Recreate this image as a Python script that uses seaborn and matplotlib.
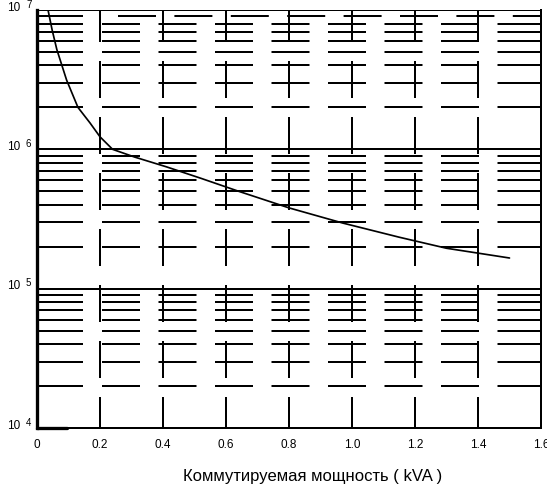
import matplotlib
matplotlib.use("Agg")
import matplotlib.pyplot as plt
import matplotlib.transforms as mtransforms
import seaborn as sns
import numpy as np
import pandas as pd

# ---- data ----
power_kva = [0.035, 0.048, 0.063, 0.094, 0.13, 0.168, 0.2, 0.24, 0.31, 0.41,
             0.52, 0.64, 0.8, 0.97, 1.15, 1.3, 1.5]
operations = [1.0e7, 7.2e6, 5.2e6, 3.14e6, 2.0e6, 1.55e6, 1.23e6, 1.0e6, 8.8e5, 7.5e5,
              6.2e5, 5.0e5, 3.8e5, 2.96e5, 2.34e5, 1.95e5, 1.66e5]
x_ticks = [0, 0.2, 0.4, 0.6, 0.8, 1.0, 1.2, 1.4, 1.6]
x_tick_labels = ["0", "0.2", "0.4", "0.6", "0.8", "1.0", "1.2", "1.4", "1.6"]
y_exponents = [4, 5, 6, 7]
y_base_label = "10"
x_label = "Коммутируемая мощность ( kVA )"

sns.set_style("white")
plt.rcParams["font.family"] = ["Liberation Sans", "DejaVu Sans"]
plt.rcParams["lines.scale_dashes"] = False

DPI = 100
fig = plt.figure(figsize=(5.47, 4.94), dpi=DPI)
ax = fig.add_axes([37 / 547, 66 / 494, 504 / 547, 418 / 494])

df = pd.DataFrame({"power": power_kva, "ops": operations})

ax.set_xlim(0, 1.6)
ax.set_yscale("log")
ax.set_ylim(1e4, 1e7)

px = 72.0 / DPI  # points per pixel

# minor horizontal dashed grid
h_seq = [46, 19] + [38, 18.5] * 7 + [60]
h_seq_top = [46, 35] + [38, 18.4] * 7 + [60]
for e in [4, 5, 6]:
    for m in range(2, 10):
        v = m * 10 ** e
        seq = h_seq_top if (e == 6 and m == 9) else h_seq
        ax.axhline(v, color="black", lw=2 * px,
                   linestyle=(0, [s * px for s in seq]), zorder=1)
# major solid lines
for e in [5, 6]:
    ax.axhline(10 ** e, color="black", lw=2 * px, zorder=1)

# vertical dashed grid (drawn bottom to top)
v_seq = [31, 19] + [37, 19] * 6 + [60]
for xv in x_ticks[1:-1]:
    ax.axvline(xv, color="black", lw=2 * px,
               linestyle=(0, [s * px for s in v_seq]), zorder=1)

# thick piece at the start of the bottom axis
ax.axhline(1e4, xmin=0, xmax=30 / 504, color="black", lw=3.3 * px, zorder=3,
           clip_on=False)

sns.lineplot(data=df, x="power", y="ops", ax=ax, color="black",
             lw=1.7 * px, zorder=4, legend=False)

# spines
ax.spines["left"].set_linewidth(3.3 * px)
ax.spines["bottom"].set_linewidth(2 * px)
ax.spines["right"].set_linewidth(2 * px)
ax.spines["top"].set_linewidth(1 * px)
for s in ax.spines.values():
    s.set_color("black")
    s.set_visible(True)

ax.set_xticks(x_ticks)
ax.set_xticklabels(x_tick_labels)
ax.set_yticks([10.0 ** e for e in y_exponents])
ax.set_yticklabels([""] * len(y_exponents))
ax.yaxis.set_minor_locator(matplotlib.ticker.NullLocator())
ax.tick_params(axis="both", length=0, labelsize=8.5, colors="black")
ax.tick_params(axis="x", pad=8)

# y tick labels: "10" with a raised exponent
trans = mtransforms.blended_transform_factory(ax.transAxes, ax.transData)
for e in y_exponents:
    ax.annotate(y_base_label, xy=(0, 10.0 ** e), xycoords=trans,
                xytext=(-16.5 * px, 2.5 * px), textcoords="offset points",
                ha="right", va="center", fontsize=8.5, color="black",
                annotation_clip=False)
    ax.annotate(str(e), xy=(0, 10.0 ** e), xycoords=trans,
                xytext=(-11 * px, 5.5 * px), textcoords="offset points",
                ha="left", va="center", fontsize=7, color="black",
                annotation_clip=False)

ax.set_xlabel(x_label, fontsize=12, color="black")
ax.set_ylabel("")
ax.xaxis.set_label_coords(0.546, -0.098)

fig.savefig("out.png", dpi=DPI)
